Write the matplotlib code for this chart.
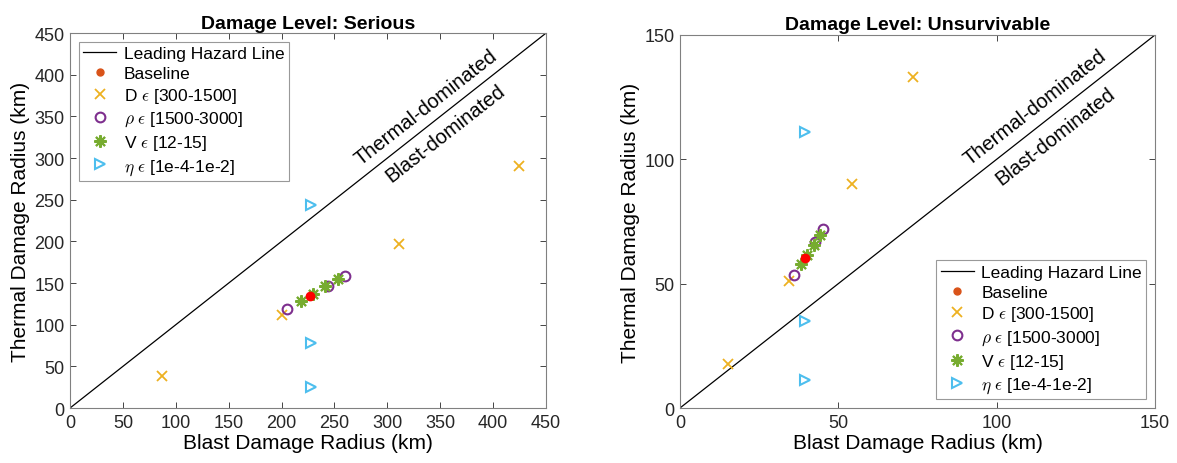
import matplotlib.pyplot as plt

plt.rcParams['font.family'] = ['Liberation Sans', 'DejaVu Sans']
plt.rcParams['mathtext.fontset'] = 'cm'

# ---- Serious ----
s_base = (226.5, 134.0)
s_D_x = [87, 200, 311, 424]
s_D_y = [38, 112, 197, 291]
s_rho_x = [205.5, 243.5, 260]
s_rho_y = [119, 146.5, 158]
s_V_x = [218, 230, 241.5, 253]
s_V_y = [128, 136.5, 146, 154.5]
s_eta_x = [227.5, 227.5, 227.5]
s_eta_y = [243.5, 78, 25]

# ---- Unsurvivable ----
u_base = (39.6, 60.5)
u_D_x = [15.3, 34.5, 54.3, 73.6]
u_D_y = [17.8, 51.2, 90, 133]
u_rho_x = [35.9, 42.6, 45.3]
u_rho_y = [53.6, 66.6, 71.8]
u_V_x = [38.1, 40.1, 42.4, 44.3]
u_V_y = [57.8, 61.5, 65.7, 69.7]
u_eta_x = [39.6, 39.6, 39.6]
u_eta_y = [111, 34.8, 11.1]

c_base_leg = '#D95319'
c_D = '#EDB120'
c_rho = '#7E2F8E'
c_V = '#77AC30'
c_eta = '#4DBEEE'

labels = ['Leading Hazard Line', 'Baseline', r'D $\epsilon$ [300-1500]',
          r'$\rho$ $\epsilon$ [1500-3000]', r'V $\epsilon$ [12-15]',
          r'$\eta$ $\epsilon$ [1e-4-1e-2]']

fig = plt.figure(figsize=(11.77, 4.64), dpi=100)
ax1 = fig.add_axes([0.0595, 0.1185, 0.4044, 0.808])
ax2 = fig.add_axes([0.5777, 0.1185, 0.4036, 0.804])


def draw(ax, lim, step, base, Dx, Dy, rx, ry, vx, vy, ex, ey, title, loc, txt):
    ln, = ax.plot([0, lim], [0, lim], color='black', lw=0.9)
    ax.plot([base[0]], [base[1]], 'o', color='red', ms=6, zorder=5)
    bl, = ax.plot([], [], 'o', color=c_base_leg, ms=5)
    d, = ax.plot(Dx, Dy, 'x', color=c_D, ms=7, mew=1.3, ls='none')
    r, = ax.plot(rx, ry, 'o', mfc='none', mec=c_rho, ms=7, mew=1.5, ls='none')
    v, = ax.plot(vx, vy, ls='none', marker=(8, 2, 0), color=c_V, ms=9, mew=1.5)
    e, = ax.plot(ex, ey, '>', mfc='none', mec=c_eta, ms=7, mew=1.5, ls='none')
    ax.set_xlim(0, lim)
    ax.set_ylim(0, lim)
    ax.set_xticks(range(0, lim + 1, step))
    ax.set_yticks(range(0, lim + 1, step))
    ax.tick_params(direction='in', top=True, right=True, labelsize=13,
                   colors='#262626', length=4, width=0.6, pad=4)
    for sp in ax.spines.values():
        sp.set_color('#808080')
        sp.set_linewidth(0.8)
    ax.set_xlabel('Blast Damage Radius (km)', fontsize=15, labelpad=2)
    ax.set_ylabel('Thermal Damage Radius (km)', fontsize=15, labelpad=3)
    ax.set_title(title, fontsize=14, fontweight='bold', pad=4)
    leg = ax.legend([ln, bl, d, r, v, e], labels, loc=loc, fontsize=12.5,
                    frameon=True, fancybox=False, edgecolor='#808080',
                    handlelength=1.9, handletextpad=0.45, borderpad=0.25,
                    labelspacing=0.28, borderaxespad=0.5)
    leg.get_frame().set_linewidth(0.8)
    (tx1, ty1), (tx2, ty2) = txt
    ax.text(tx1, ty1, 'Thermal-dominated', fontsize=14.5, rotation=38,
            rotation_mode='anchor', ha='center', va='center')
    ax.text(tx2, ty2, 'Blast-dominated', fontsize=14.5, rotation=38,
            rotation_mode='anchor', ha='center', va='center')


draw(ax1, 450, 50, s_base, s_D_x, s_D_y, s_rho_x, s_rho_y, s_V_x, s_V_y,
     s_eta_x, s_eta_y, 'Damage Level: Serious', 'upper left',
     ((337, 361), (355, 330)))
draw(ax2, 150, 50, u_base, u_D_x, u_D_y, u_rho_x, u_rho_y, u_V_x, u_V_y,
     u_eta_x, u_eta_y, 'Damage Level: Unsurvivable', 'lower right',
     ((112, 121), (118.6, 109.5)))

fig.savefig('out.png', dpi=100)
